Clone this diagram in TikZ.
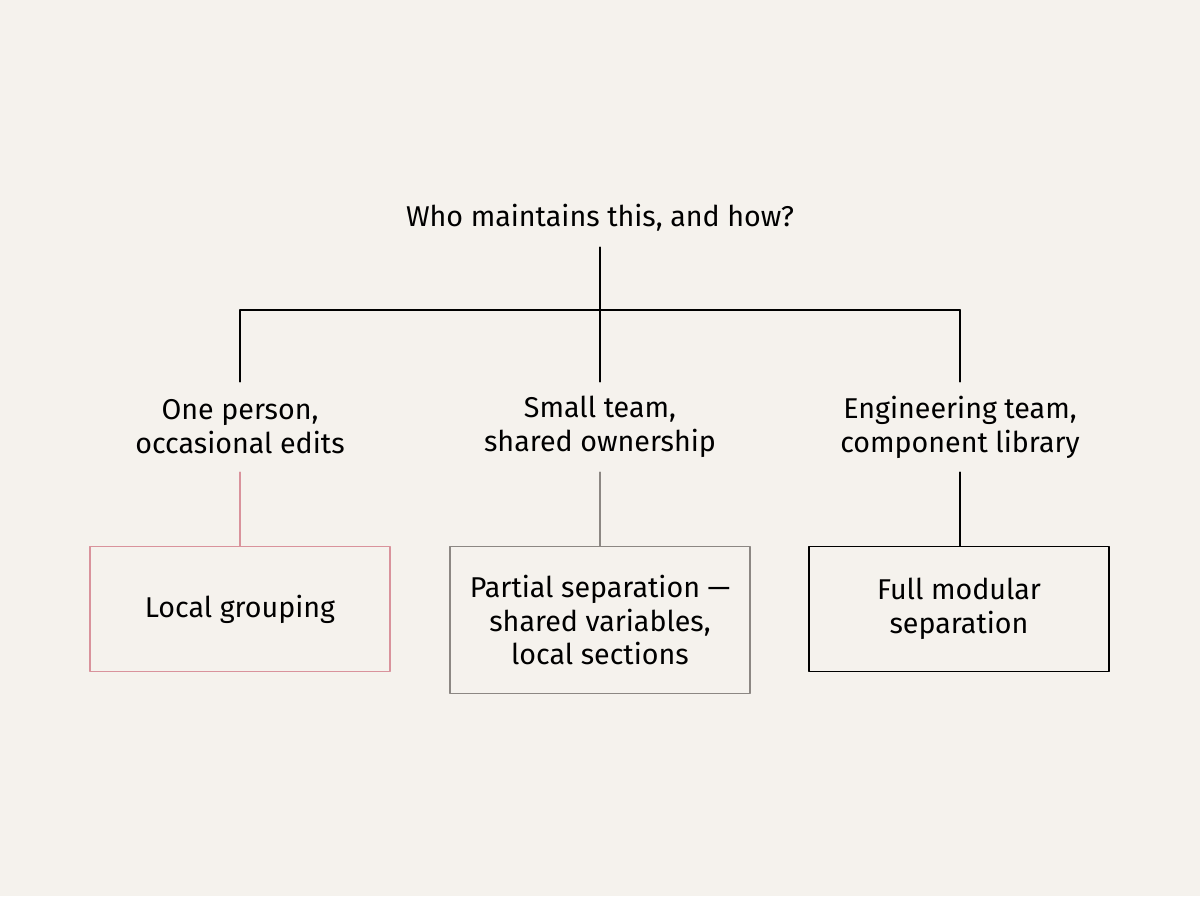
\documentclass[tikz,border=0pt]{standalone}
\usepackage{fontspec}
\setmainfont{Fira Sans}
\usetikzlibrary{positioning}
\definecolor{paper}{HTML}{F5F2ED}
\definecolor{pinkline}{HTML}{D9939C}
\definecolor{greyline}{HTML}{8C8783}
\begin{document}
\begin{tikzpicture}[line cap=round,line join=round,x=0.02cm,y=-0.02cm,
  txt/.style={font=\fontsize{16.3}{19.3}\selectfont,align=center,inner sep=0pt},
  opt/.style={txt,minimum height=1.8cm},
  res/.style={txt,draw,line width=1pt,minimum width=6cm,minimum height=2.5cm},
  link/.style={line width=1pt}]
\fill[paper] (0,0) rectangle (1200,896);
\useasboundingbox (0,0) rectangle (1200,896);

\node[txt,minimum height=1.16cm] (who) at (600,218) {Who maintains this, and how?};
\coordinate (hub) at (600,310);
\coordinate (hubl) at (240,310);
\coordinate (hubr) at (960,310);

\node[opt] (one) at (240,427) {One person,\\occasional edits};
\node[opt] (small) at (600,427) {Small team,\\shared ownership};
\node[opt] (eng) at (960,427) {Engineering team,\\component library};

\node[res,draw=pinkline] (local) at (240,609) {Local grouping};
\node[res,draw=greyline,minimum height=2.94cm] (partial) at (600,620) {Partial separation —\\shared variables,\\local sections};
\node[res,draw=black] (full) at (959,609) {Full modular\\separation};

\draw[link] (who.south) -- (hub);
\draw[link] (hubl) -- (hubr);
\draw[link] (hubl) -- (one.north);
\draw[link] (hub) -- (small.north);
\draw[link] (hubr) -- (eng.north);

\draw[link,pinkline] (one.south) -- (local.north);
\draw[link,greyline] (small.south) -- (partial.north);
\draw[link] (eng.south) -- (eng.south |- full.north);
\end{tikzpicture}
\end{document}
